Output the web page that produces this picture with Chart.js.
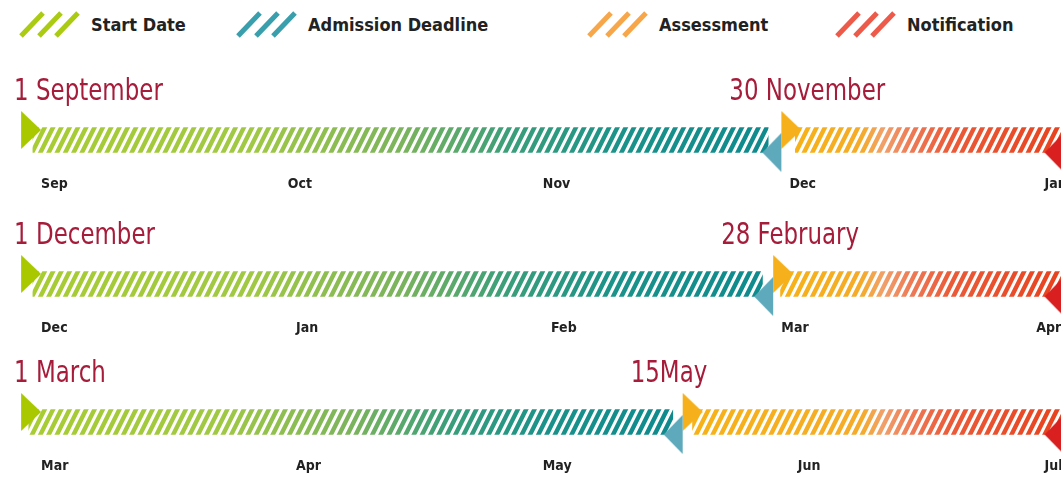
<!DOCTYPE html>
<html>
<head>
<meta charset="utf-8">
<script src="https://cdn.jsdelivr.net/npm/chart.js@4.4.1/dist/chart.umd.min.js"></script>
<style>
  body { margin: 0; background: #fff; }
  #wrap { position: relative; width: 1061px; height: 477px; overflow: hidden;
          font-family: 'DejaVu Sans Condensed', 'DejaVu Sans', sans-serif; }
  .legend-item { position: absolute; top: 10px; height: 28px; display: flex; align-items: center;
                 font-size: 18px; font-weight: bold; color: #222; white-space: nowrap; }
  .legend-item canvas { margin-right: 11px; }
  .row { position: absolute; left: 0; width: 1061px; height: 142px; }
</style>
</head>
<body>
<div id="wrap">
  <div id="legend"></div>
  <div class="row" style="top:60px"><canvas id="row0" width="1061" height="142"></canvas></div>
  <div class="row" style="top:204px"><canvas id="row1" width="1061" height="142"></canvas></div>
  <div class="row" style="top:342px"><canvas id="row2" width="1061" height="142"></canvas></div>
</div>
<script>
/* ─── DATA ─────────────────────────────────────────────
   One row per intake. x values are days counted from the
   1st of the row's first month.                         */
const seriesNames  = ['Start Date', 'Admission Deadline', 'Assessment', 'Notification'];
const rowMonths    = [['Sep', 'Oct', 'Nov', 'Dec', 'Jan'],
                      ['Dec', 'Jan', 'Feb', 'Mar', 'Apr'],
                      ['Mar', 'Apr', 'May', 'Jun', 'Jul']];
const rowMonthDays = [[0, 30, 61, 91, 122],
                      [0, 31, 62, 90, 121],
                      [0, 31, 61, 92, 122]];
const startLabels    = ['1 September', '1 December', '1 March'];
const deadlineLabels = ['30 November', '28 February', '15May'];
const startDay        = [0, 0, 0];
const deadlineDay     = [90, 89, 78];
const assessmentDay   = [90, 89, 78];
const notificationDay = [122, 122, 122];
const applyPhase  = [[-1, 88.4], [-1, 87.7], [-1.5, 76.8]];
const reviewPhase = [[91.7, 126], [89.9, 126], [79.2, 126]];
const axisMin = -5;
const axisMax = 124;

/* ─── COLOURS ──────────────────────────────────────── */
const legendColors = ['#aacb12', '#3a9fad', '#f7a74a', '#ee5a4a'];
const markerColors = ['#a9c800', '#5eaabc', '#f6b01c', '#d91f1f'];
const titleColor = '#a51d3b';
const applyStops  = [[0, '#a8cc32'], [0.3, '#a0c844'], [0.5, '#7cb45c'], [0.65, '#3a9e7a'], [0.8, '#1a928a'], [1, '#0e8a8e']];
// review stops given as px from the right end of the bar
const reviewStops = [[9999, '#f7b217'], [200, '#f5ab28'], [178, '#f1a06a'], [150, '#ee7a55'], [110, '#eb5a38'], [0, '#e8421e']];

/* ─── HELPERS ──────────────────────────────────────── */
function stripeMask(g, w, h) {
  g.globalCompositeOperation = 'destination-in';
  g.strokeStyle = '#000';
  g.lineWidth = 4.4;
  g.beginPath();
  for (let sx = -h; sx < w + h; sx += 8.3) {
    g.moveTo(sx, h);
    g.lineTo(sx + h * 0.5, 0);
  }
  g.stroke();
}

function hatchFill(chart, range, stops, fromRight) {
  const area = chart.chartArea;
  if (!area) return stops[0][1];
  const xs = chart.scales.x;
  const off = document.createElement('canvas');
  off.width = chart.width;
  off.height = chart.height;
  const g = off.getContext('2d');
  const x0 = xs.getPixelForValue(range[0]);
  const x1 = Math.min(xs.getPixelForValue(range[1]), area.right);
  const grad = g.createLinearGradient(x0, 0, x1, 0);
  stops.forEach(([p, c]) => {
    const f = fromRight ? Math.max(0, 1 - p / (x1 - x0)) : p;
    grad.addColorStop(f, c);
  });
  g.fillStyle = grad;
  g.fillRect(0, 0, off.width, off.height);
  stripeMask(g, off.width, off.height);
  return chart.ctx.createPattern(off, 'no-repeat');
}

// triangle drawn inside an image so the data x sits at the tip or the base
function triangleImage(color, pointsRight, tipAtValue, dy, w, h) {
  const c = document.createElement('canvas');
  c.width = 2 * w + 4;
  c.height = 2 * (Math.abs(dy) + h / 2) + 4;
  const g = c.getContext('2d');
  const cx = c.width / 2, cy = c.height / 2 + dy;
  let base, tip;
  if (pointsRight) { base = tipAtValue ? cx - w : cx; tip = base + w; }
  else             { base = tipAtValue ? cx + w : cx; tip = base - w; }
  g.fillStyle = color;
  g.beginPath();
  g.moveTo(base, cy - h / 2);
  g.lineTo(tip, cy);
  g.lineTo(base, cy + h / 2);
  g.closePath();
  g.fill();
  return c;
}

const startMark    = triangleImage(markerColors[0], true, true, -10, 20, 38);
const deadlineMark = triangleImage(markerColors[1], false, false, 12.5, 19, 39);
const assessMark   = triangleImage(markerColors[2], true, false, -10, 20, 38);
const notifyMark   = triangleImage(markerColors[3], false, true, 12.5, 19, 39);

/* ─── LEGEND ───────────────────────────────────────── */
const legendLefts = [18, 235, 586, 834];
const legendEl = document.getElementById('legend');
seriesNames.forEach((name, i) => {
  const item = document.createElement('div');
  item.className = 'legend-item';
  item.style.left = legendLefts[i] + 'px';
  const ic = document.createElement('canvas');
  ic.width = 62; ic.height = 28;
  const g = ic.getContext('2d');
  g.strokeStyle = legendColors[i];
  g.lineWidth = 5;
  g.beginPath();
  [3, 21, 38].forEach(x => { g.moveTo(x, 26); g.lineTo(x + 22, 3); });
  g.stroke();
  item.appendChild(ic);
  const t = document.createElement('span');
  t.textContent = name;
  item.appendChild(t);
  legendEl.appendChild(item);
});

/* ─── ROW TITLES PLUGIN ────────────────────────────── */
const rowTitles = {
  id: 'rowTitles',
  afterDatasetsDraw(chart, args, opts) {
    const { ctx, scales: { x, y } } = chart;
    const cy = y.getPixelForValue(0);
    const put = (text, px) => {
      ctx.save();
      ctx.translate(px, cy - 40);
      ctx.scale(0.85, 1);   // condensed look
      ctx.fillText(text, 0, 0);
      ctx.restore();
    };
    ctx.save();
    ctx.font = '30px "DejaVu Sans Condensed", "DejaVu Sans", sans-serif';
    ctx.fillStyle = titleColor;
    ctx.textAlign = 'left';
    ctx.textBaseline = 'alphabetic';
    put(opts.start, x.getPixelForValue(opts.startDay) - 27);
    put(opts.deadline, x.getPixelForValue(opts.deadlineDay) - 52);
    ctx.restore();
  }
};

/* ─── ONE CHART PER ROW ────────────────────────────── */
function initRow(r) {
  const el = document.getElementById('row' + r);
  const mark = (val, img, label) => ({
    type: 'scatter', label, order: 1, clip: false,
    data: [{ x: val, y: 'row' }],
    pointStyle: img, pointRadius: 10, pointHoverRadius: 10
  });
  new Chart(el, {
    type: 'bar',
    data: {
      labels: ['row'],
      datasets: [
        { label: 'apply', data: [applyPhase[r]], order: 2, grouped: false, barThickness: 25,
          backgroundColor: (c) => hatchFill(c.chart, applyPhase[r], applyStops, false) },
        { label: 'review', data: [reviewPhase[r]], order: 2, grouped: false, barThickness: 25,
          backgroundColor: (c) => hatchFill(c.chart, reviewPhase[r], reviewStops, true) },
        mark(startDay[r], startMark, seriesNames[0]),
        mark(deadlineDay[r], deadlineMark, seriesNames[1]),
        mark(assessmentDay[r], assessMark, seriesNames[2]),
        mark(notificationDay[r], notifyMark, seriesNames[3])
      ]
    },
    options: {
      indexAxis: 'y',
      responsive: false,
      animation: false,
      events: [],
      layout: { autoPadding: false, padding: { top: 64, bottom: 6, left: 0, right: 0 } },
      scales: {
        x: {
          type: 'linear', min: axisMin, max: axisMax,
          grid: { display: false }, border: { display: false },
          afterBuildTicks: (s) => { s.ticks = rowMonthDays[r].map(v => ({ value: v })); },
          afterFit: (s) => { s.paddingLeft = 0; s.paddingRight = 0; s.height = 40; },
          ticks: {
            align: 'start', autoSkip: false, maxRotation: 0, padding: 12,
            color: '#222',
            font: { family: "'DejaVu Sans Condensed', 'DejaVu Sans', sans-serif", size: 14, weight: 'bold' },
            callback: (v, i) => rowMonths[r][i]
          }
        },
        y: { type: 'category', labels: ['row'], display: false }
      },
      plugins: {
        legend: { display: false },
        tooltip: { enabled: false },
        rowTitles: { start: startLabels[r], deadline: deadlineLabels[r],
                     startDay: startDay[r], deadlineDay: deadlineDay[r] }
      }
    },
    plugins: [rowTitles]
  });
}

[0, 1, 2].forEach(initRow);
</script>
</body>
</html>
